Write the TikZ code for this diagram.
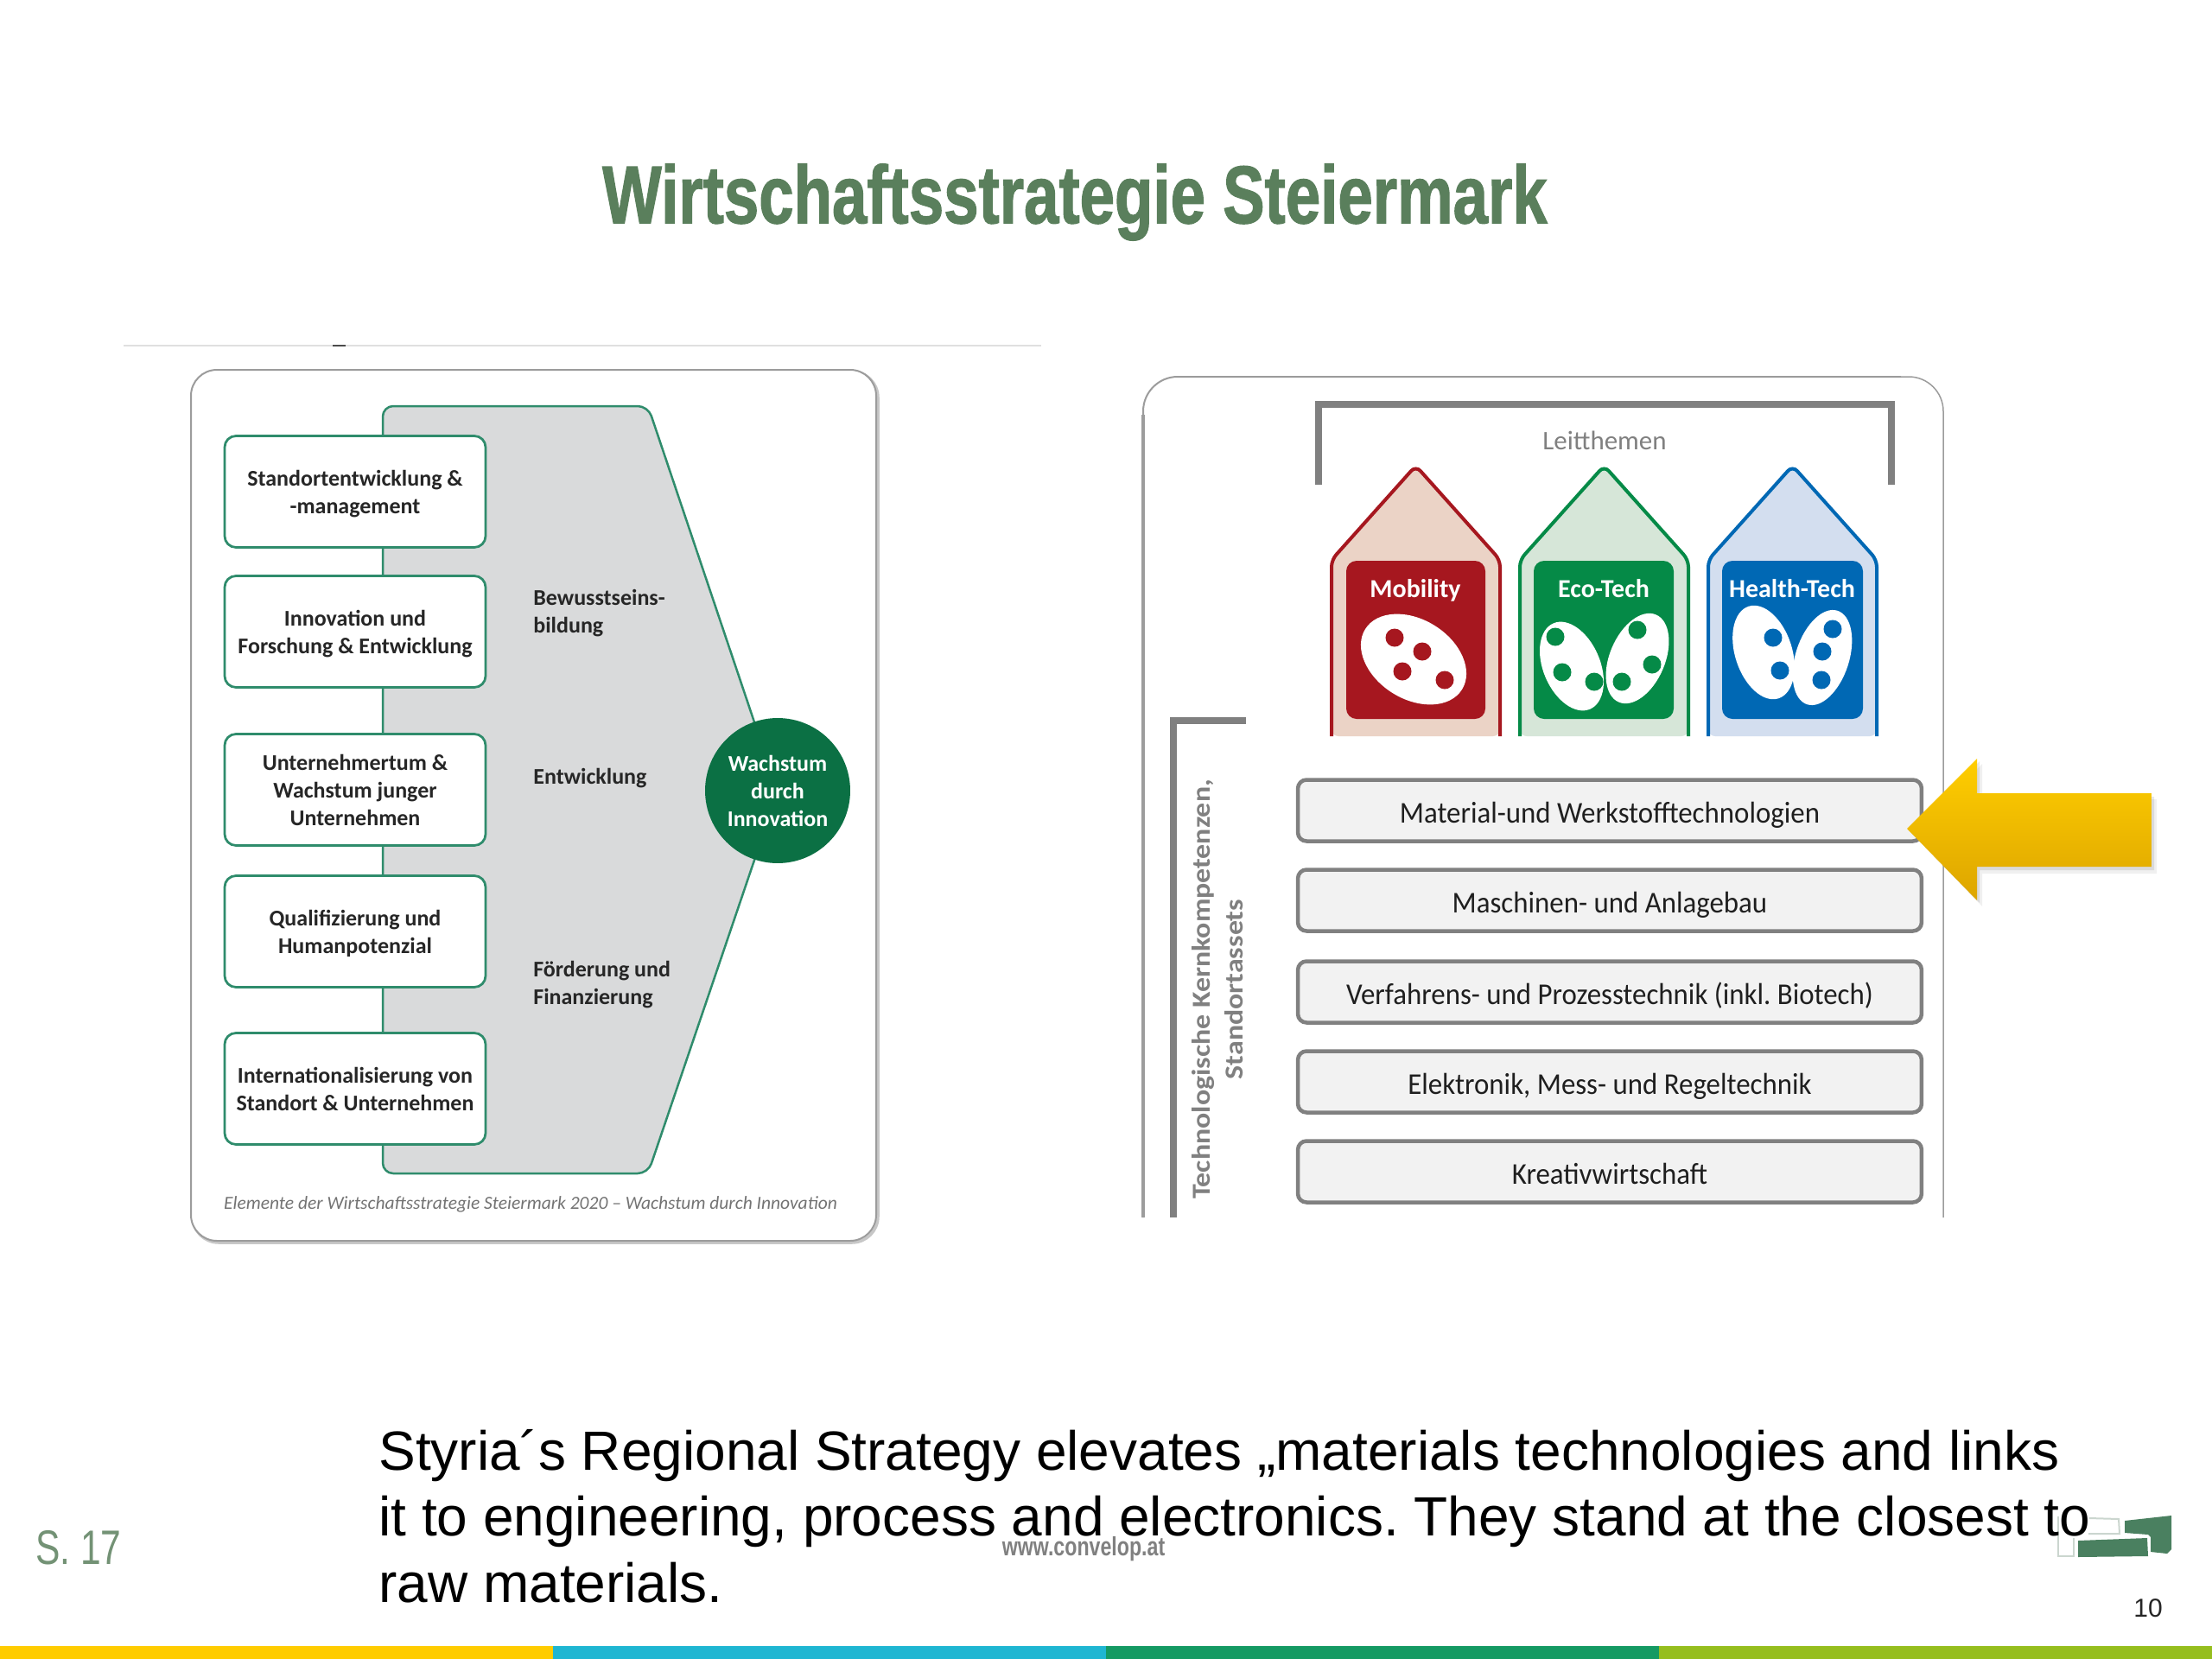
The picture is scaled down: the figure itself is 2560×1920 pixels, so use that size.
\documentclass[tikz,border=0pt]{standalone}
\usepackage{fontspec}
\setmainfont{Carlito}
\newfontfamily\arialf{Liberation Sans}
\newfontfamily\titlef[FakeStretch=0.765,FakeBold=1.2]{Liberation Sans}
\newfontfamily\narrowf[FakeStretch=0.76]{Liberation Sans}
\newfontfamily\barf[FakeStretch=0.94]{Carlito}
\newfontfamily\widef[FakeStretch=1.13]{Carlito}
\newcommand{\fs}[2]{\pgfmathsetmacro{\fsa}{#1*0.569}\pgfmathsetmacro{\fsb}{#2*0.569}\fontsize{\fsa pt}{\fsb pt}\selectfont}
\newcommand{\lowfirst}{\rule{0pt}{0.46cm}}
\definecolor{titlegreen}{HTML}{5A7F5C}
\definecolor{boxgreen}{HTML}{2F8C6C}
\definecolor{darkgreen}{HTML}{0B7044}
\definecolor{panelgray}{HTML}{9C9C9C}
\definecolor{brgray}{HTML}{808080}
\definecolor{shapegray}{HTML}{D9DADB}
\definecolor{redd}{HTML}{A6171F}
\definecolor{redl}{HTML}{EBD3C6}
\definecolor{greend}{HTML}{058A47}
\definecolor{greenl}{HTML}{D6E6D8}
\definecolor{blued}{HTML}{0068B4}
\definecolor{bluel}{HTML}{D3DEEF}
\definecolor{logogreen}{HTML}{4A8060}
\definecolor{logolight}{HTML}{CBD6CF}
\definecolor{stripyellow}{HTML}{FFCC00}
\definecolor{stripcyan}{HTML}{1FB6D2}
\definecolor{stripgreen}{HTML}{159A63}
\definecolor{striplime}{HTML}{96BE1E}
\definecolor{arrowtop}{HTML}{FFCE00}
\definecolor{arrowbot}{HTML}{DDA500}
\tikzset{
  strategybox/.style={draw=boxgreen,fill=white,line width=0.055cm,rounded corners=0.26cm,minimum width=6.04cm,minimum height=2.58cm,inner sep=0pt,align=center,font=\fs{26}{32}\bfseries,text=black!85},
  midlabel/.style={anchor=west,align=left,inner sep=0pt,font=\fs{26}{32}\bfseries,text=black!85},
  techbar/.style={draw=brgray,fill=black!5,line width=0.09cm,rounded corners=0.2cm,minimum width=14.44cm,minimum height=1.42cm,inner sep=0pt,text height=0.58cm,text depth=0pt,font=\barf\fs{35}{40},text=black!88},
  themelabel/.style={inner sep=0pt,text=white,text height=0.36cm,text depth=0pt,font=\fs{30}{36}\bfseries},
  sidelabel/.style={inner sep=0pt,text=brgray,font=\widef\fs{30}{36}\bfseries,rotate=90},
  bracket/.style={draw=brgray,line width=0.16cm}
}
\begin{document}
\frenchspacing
\begin{tikzpicture}[x=0.02cm,y=-0.02cm]
\useasboundingbox (0,0) rectangle (2560,1920);
\fill[white] (0,0) rectangle (2560,1920);
% title
\node[inner sep=0pt,text=titlegreen,font=\titlef\fs{95}{100}\bfseries] (title) at (1244,234) {Wirtschaftsstrategie Steiermark};
% left panel
\draw[black!12,line width=0.04cm] (143,400) -- (1205,400);
\draw[black!70,line width=0.05cm] (385,400) -- (400,400);
\draw[black!22,line width=0.07cm,rounded corners=0.6cm] (223,430) rectangle (1016,1438);
\draw[panelgray,fill=white,line width=0.04cm,rounded corners=0.6cm] (221,428) rectangle (1014,1436);
\draw[boxgreen,fill=shapegray,line width=0.05cm,rounded corners=0.24cm] (443,470) -- (750,470) -- (900,916) -- (750,1358) -- (443,1358) -- cycle;
\node[strategybox] (b1) at (411,569) {\lowfirst Standortentwicklung \&\\-management};
\node[strategybox] (b2) at (411,731) {\lowfirst Innovation und\\Forschung \& Entwicklung};
\node[strategybox] (b3) at (411,914) {Unternehmertum \&\\Wachstum junger\\Unternehmen};
\node[strategybox] (b4) at (411,1078) {\lowfirst Qualifizierung und\\Humanpotenzial};
\node[strategybox] (b5) at (411,1260) {Internationalisierung von\\Standort \& Unternehmen};
\node[midlabel] (m1) at (617,710) {Bewusstseins-\\bildung};
\node[midlabel] (m2) at (617,901) {Entwicklung};
\node[midlabel] (m3) at (617,1140) {Förderung und\\Finanzierung};
\node[circle,fill=darkgreen,minimum size=3.36cm,inner sep=0pt,align=center,text=white,font=\fs{26}{32}\bfseries] (growth) at (900,915) {Wachstum\\durch\\Innovation};
\node[inner sep=0pt,text=black!55,font=\fs{21.5}{24}\itshape] (caption) at (614,1394) {Elemente der Wirtschaftsstrategie Steiermark 2020 -- Wachstum durch Innovation};
% right panel
\draw[panelgray,line width=0.04cm,rounded corners=0.8cm] (1323,1409) -- (1323,436) -- (2200,436);
\draw[panelgray,line width=0.03cm,rounded corners=0.8cm] (2100,436) -- (2249,436) -- (2249,1409);
\draw[panelgray,line width=0.07cm] (1323,1409) -- (1323,480);
\draw[bracket] (1526,561) -- (1526,468) -- (2189,468) -- (2189,561);
\node[inner sep=0pt,text=brgray,font=\fs{31}{36}] (leit) at (1857,510) {Leitthemen};
% houses
\fill[redl,rounded corners=0.16cm] (1541,852) -- (1541,648) -- (1638.5,539) -- (1736,648) -- (1736,852) -- cycle;
\draw[redd,line width=0.08cm,rounded corners=0.16cm] (1541,852) -- (1541,648) -- (1638.5,539) -- (1736,648) -- (1736,852);
\fill[greenl,rounded corners=0.16cm] (1759,852) -- (1759,648) -- (1856.5,539) -- (1954,648) -- (1954,852) -- cycle;
\draw[greend,line width=0.08cm,rounded corners=0.16cm] (1759,852) -- (1759,648) -- (1856.5,539) -- (1954,648) -- (1954,852);
\fill[bluel,rounded corners=0.16cm] (1977,852) -- (1977,648) -- (2074.5,539) -- (2172,648) -- (2172,852) -- cycle;
\draw[blued,line width=0.08cm,rounded corners=0.16cm] (1977,852) -- (1977,648) -- (2074.5,539) -- (2172,648) -- (2172,852);
\fill[redd,rounded corners=0.24cm] (1558,649) rectangle (1719,832);
\fill[greend,rounded corners=0.24cm] (1775,649) rectangle (1937,832);
\fill[blued,rounded corners=0.24cm] (1993,649) rectangle (2156,832);
\node[themelabel] (t1) at (1638,682) {Mobility};
\node[themelabel] (t2) at (1856,682) {Eco-Tech};
\node[themelabel] (t3) at (2074,682) {Health-Tech};
% cells
\fill[white,rotate around={-32:(1636,763)}] (1636,763) ellipse [x radius=66,y radius=46];
\fill[redd] (1614,738) circle [radius=10.5] (1646,754) circle [radius=10.5] (1623,777) circle [radius=10.5] (1672,787) circle [radius=10.5];
\fill[white,rotate around={-67:(1819,771)}] (1819,771) ellipse [x radius=54,y radius=33];
\fill[white,rotate around={67:(1895,762)}] (1895,762) ellipse [x radius=55,y radius=32];
\fill[greend] (1800,737) circle [radius=10.5] (1808,778) circle [radius=10.5] (1845,789) circle [radius=10.5] (1895,729) circle [radius=10.5] (1912,769) circle [radius=10.5] (1877,789) circle [radius=10.5];
\fill[white,rotate around={-72:(2041,755)}] (2041,755) ellipse [x radius=56,y radius=33];
\fill[white,rotate around={72:(2109,761)}] (2109,761) ellipse [x radius=57,y radius=31];
\fill[blued] (2052,738) circle [radius=10.5] (2060,776) circle [radius=10.5] (2121,728) circle [radius=10.5] (2109,754) circle [radius=10.5] (2108,787) circle [radius=10.5];
% left bracket and labels
\draw[bracket] (1442,834) -- (1358,834) -- (1358,1409);
\node[sidelabel] (s1) at (1393,1145) {Technologische Kernkompetenzen,};
\node[sidelabel] (s2) at (1428,1145) {Standortassets};
% bars
\node[techbar] (c1) at (1863,938) {Material-und Werkstofftechnologien};
\node[techbar] (c2) at (1863,1042) {Maschinen- und Anlagebau};
\node[techbar] (c3) at (1863,1148) {Verfahrens- und Prozesstechnik (inkl. Biotech)};
\node[techbar] (c4) at (1863,1252) {Elektronik, Mess- und Regeltechnik};
\node[techbar] (c5) at (1863,1356) {Kreativwirtschaft};
% arrow
\fill[black,opacity=0.06] (2213,965) -- (2294,884) -- (2294,925) -- (2496,925) -- (2496,1011) -- (2294,1011) -- (2294,1049) -- cycle;
\fill[black,opacity=0.09] (2210,962) -- (2291,881) -- (2291,922) -- (2493,922) -- (2493,1007) -- (2291,1007) -- (2291,1045) -- cycle;
\shade[top color=arrowtop,bottom color=arrowbot] (2207,959) -- (2288,878) -- (2288,918) -- (2490,918) -- (2490,1003) -- (2288,1003) -- (2288,1042) -- cycle;
% footer
\node[anchor=west,inner sep=0pt,text=titlegreen!85,font=\narrowf\fs{56}{60}] (page) at (41,1791) {S. 17};
\node[inner sep=0pt,text=black!50,font=\narrowf\fs{30.5}{34}\bfseries] (web) at (1254,1793) {www.convelop.at};
\draw[logolight,line width=0.04cm] (2418,1757) -- (2452,1758) -- (2453,1775) -- (2417,1775);
\draw[logolight,line width=0.04cm] (2382,1755) -- (2382,1801) -- (2400,1801) -- (2400,1780);
\fill[logogreen] (2459,1760) -- (2513,1754) -- (2513,1793) -- (2508,1798) -- (2489,1796) -- (2489,1779) -- (2486,1776) -- (2459,1774) -- cycle;
\fill[logogreen] (2405,1783) -- (2485,1780) -- (2486,1801) -- (2405,1802) -- cycle;
\node[anchor=base west,inner sep=0pt,align=left,text=black,font=\arialf\fs{64}{76.5}] (body) at (438,1854) {Styria´s Regional Strategy elevates „materials technologies and links\\it to engineering, process and electronics. They stand at the closest to\\raw materials.};
\node[inner sep=0pt,text=black!85,font=\arialf\fs{30}{34}] (num) at (2486,1861) {10};
% colour strip
\fill[stripyellow] (0,1905) rectangle (640,1920);
\fill[stripcyan] (640,1905) rectangle (1280,1920);
\fill[stripgreen] (1280,1905) rectangle (1920,1920);
\fill[striplime] (1920,1905) rectangle (2560,1920);
\end{tikzpicture}
\end{document}
